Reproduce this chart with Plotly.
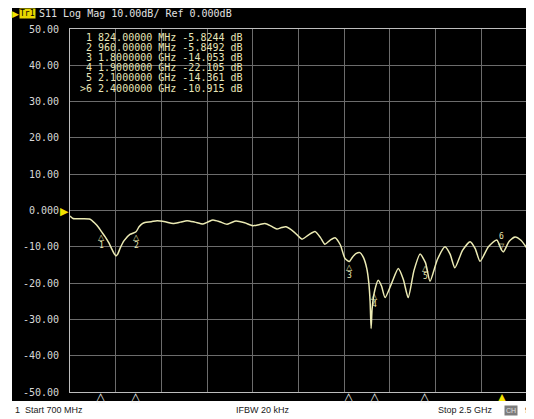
import plotly.graph_objects as go

# ---------------- data ----------------
freq_mhz = [700, 712, 740, 779, 798, 812, 824, 838, 852, 866, 875, 881, 888, 898, 913,
            936, 960, 972, 985, 995, 1020, 1043, 1075, 1106, 1135, 1161, 1192, 1224,
            1245, 1263, 1290, 1318, 1336, 1354, 1388, 1421, 1445, 1468, 1492, 1515,
            1533, 1551, 1584, 1614, 1640, 1665, 1686, 1704, 1724, 1744, 1765, 1783,
            1800, 1811, 1826, 1842, 1856, 1869, 1877, 1882, 1886, 1890, 1900, 1914,
            1927, 1941, 1967, 1993, 2013, 2032, 2055, 2079, 2100, 2118, 2147, 2177,
            2197, 2216, 2246, 2276, 2296, 2315, 2348, 2381, 2400, 2407, 2430, 2453,
            2476, 2500]
s11_db = [-1.5, -2.2, -2.3, -2.4, -3.5, -4.6, -5.82, -7.2, -8.8, -10.8, -12.0, -12.5,
          -12.0, -10.3, -8.3, -6.6, -5.85, -4.5, -3.6, -3.3, -3.1, -2.8, -3.1, -3.6,
          -3.2, -2.8, -3.2, -3.7, -3.1, -2.6, -3.1, -3.8, -3.3, -2.9, -3.4, -4.2,
          -3.9, -3.6, -4.3, -5.1, -4.7, -4.5, -6.0, -7.9, -6.7, -5.8, -7.4, -9.3,
          -8.2, -7.5, -9.5, -13.2, -14.05, -13.0, -11.9, -11.6, -13.0, -16.0, -20.0,
          -25.0, -32.5, -27.0, -22.1, -19.2, -20.8, -24.0, -20.0, -16.0, -19.0,
          -24.0, -16.5, -12.0, -14.36, -19.5, -13.5, -10.0, -12.0, -15.8, -11.0,
          -8.6, -10.5, -14.0, -10.0, -8.1, -10.9, -11.4, -8.5, -7.3, -8.2, -10.4]

marker_ids = ["1", "2", "3", "4", "5", ">6"]
marker_freq_mhz = [824, 960, 1800, 1900, 2100, 2400]
marker_freq_text = ["824.00000 MHz", "960.00000 MHz", "1.8000000 GHz",
                    "1.9000000 GHz", "2.1000000 GHz", "2.4000000 GHz"]
marker_db = [-5.8244, -5.8492, -14.053, -22.105, -14.361, -10.915]

x_grid_mhz = [700, 880, 1060, 1240, 1420, 1600, 1780, 1960, 2140, 2320, 2500]
y_tick_vals = [50, 40, 30, 20, 10, 0, -10, -20, -30, -40, -50]
y_tick_text = ["50.00", "40.00", "30.00", "20.00", "10.00", "0.000",
               "-10.00", "-20.00", "-30.00", "-40.00", "-50.00"]

# ---------------- geometry helpers (page pixels) ----------------
PAGE_W, PAGE_H = 534, 419
OFF = 8                      # default body margin of the html page
W, H = PAGE_W - OFF, PAGE_H - OFF
L, R, T, B = 70, 527, 29, 392


def px(x):
    return (x - L) / (R - L)


def py(y):
    return (B - y) / (B - T)


TRACE = "#ecebb4"
YEL = "#f2e200"
MONO = "DejaVu Sans Mono"
NB = "\u00a0"

fig = go.Figure()
fig.add_trace(go.Scatter(x=freq_mhz, y=s11_db, mode="lines",
                         line=dict(color=TRACE, width=1.5, shape="spline", smoothing=0.6),
                         hoverinfo="skip", showlegend=False))

ann = []
# header
ann.append(dict(xref="paper", yref="paper", x=px(15), y=py(13), text="▶", showarrow=False,
                font=dict(color=YEL, size=9), xanchor="center", yanchor="middle"))
ann.append(dict(xref="paper", yref="paper", x=px(27.5), y=py(13), text="Tr1", showarrow=False,
                font=dict(color="#000000", size=8, family=MONO), bgcolor="#e8d800",
                borderpad=0, xanchor="center", yanchor="middle"))
ann.append(dict(xref="paper", yref="paper", x=px(37), y=py(13),
                text="S11 Log Mag 10.00dB/ Ref 0.000dB", showarrow=False,
                font=dict(color="#e2e2e2", size=10, family=MONO), xanchor="left", yanchor="middle"))

# marker table
for i, (mid, ft, v) in enumerate(zip(marker_ids, marker_freq_text, marker_db)):
    dbt = f"{v:.5g}"
    line = mid.rjust(2, NB) + NB + ft.replace(" ", NB) + NB + dbt.rjust(7, NB) + NB + "dB"
    ann.append(dict(xref="paper", yref="paper", x=px(78), y=py(37 + 10.2 * i), text=line,
                    showarrow=False, font=dict(color="#e8e6b8", size=10, family=MONO),
                    xanchor="left", yanchor="middle"))

# markers on the trace
for mid, f, v in zip(marker_ids, marker_freq_mhz, marker_db):
    active = mid.startswith(">")
    num = mid.lstrip(">")
    if active:
        ann.append(dict(x=f, y=v, xref="x", yref="y", text="▽", showarrow=False, yshift=5,
                        font=dict(color=TRACE, size=8)))
        ann.append(dict(x=f, y=v, xref="x", yref="y", text=num, showarrow=False, yshift=14,
                        font=dict(color=TRACE, size=8, family=MONO)))
    else:
        ann.append(dict(x=f, y=v, xref="x", yref="y", text="△", showarrow=False, yshift=-5,
                        font=dict(color=TRACE, size=8)))
        ann.append(dict(x=f, y=v, xref="x", yref="y", text=num, showarrow=False, yshift=-14,
                        font=dict(color=TRACE, size=8, family=MONO)))
    # bottom axis indicator
    ann.append(dict(x=f, y=py(396), xref="x", yref="paper", text="▲" if active else "△",
                    showarrow=False, font=dict(color=YEL if active else "#f0f0f0", size=12),
                    xanchor="center", yanchor="middle"))

# reference level indicators
ann.append(dict(xref="paper", yref="y", x=px(71), y=0, text="▶", showarrow=False,
                font=dict(color=YEL, size=11), xanchor="right", yanchor="middle"))
ann.append(dict(xref="paper", yref="y", x=px(526), y=0, text="◀", showarrow=False,
                font=dict(color=YEL, size=11), xanchor="left", yanchor="middle"))

# status line
STAT = dict(color="#202020", size=9, family="Liberation Sans")
ann.append(dict(xref="paper", yref="paper", x=px(13), y=py(410),
                text="1" + NB * 2 + "Start 700 MHz", showarrow=False, font=STAT,
                xanchor="left", yanchor="middle"))
ann.append(dict(xref="paper", yref="paper", x=px(263), y=py(410), text="IFBW 20 kHz",
                showarrow=False, font=STAT, xanchor="center", yanchor="middle"))
ann.append(dict(xref="paper", yref="paper", x=px(495), y=py(410), text="Stop 2.5 GHz",
                showarrow=False, font=STAT, xanchor="right", yanchor="middle"))
ann.append(dict(xref="paper", yref="paper", x=px(511), y=py(410), text="CH",
                showarrow=False, font=dict(color="#e0e0e0", size=7, family="Liberation Sans"),
                bgcolor="#7c7c7c", borderpad=1, xanchor="center", yanchor="middle"))
ann.append(dict(xref="paper", yref="paper", x=px(523), y=py(410), text="9",
                showarrow=False, font=STAT, xanchor="left", yanchor="middle"))

shapes = [dict(type="rect", xref="paper", yref="paper", x0=px(12), x1=px(540),
               y0=py(401), y1=py(4), fillcolor="#000000", line=dict(width=0), layer="below")]

fig.update_layout(
    width=W, height=H,
    margin=dict(l=L - OFF, r=PAGE_W - R, t=T - OFF, b=PAGE_H - B, pad=0),
    paper_bgcolor="#ffffff", plot_bgcolor="#000000",
    annotations=ann, shapes=shapes, showlegend=False,
    xaxis=dict(range=[700, 2500], tickvals=x_grid_mhz, showticklabels=False, ticks="",
               showgrid=True, gridcolor="#6c6c6c", gridwidth=1, zeroline=False,
               showline=True, mirror=True, linecolor="#bdbdbd", linewidth=1, fixedrange=True),
    yaxis=dict(range=[-50, 50], tickvals=y_tick_vals, ticktext=y_tick_text, ticks="",
               showgrid=True, gridcolor="#6c6c6c", gridwidth=1, zeroline=False,
               showline=True, mirror=True, linecolor="#bdbdbd", linewidth=1,
               tickfont=dict(color="#d8d8d8", size=10, family=MONO),
               ticklabelstandoff=8, fixedrange=True),
)

fig.write_html("out.html")
